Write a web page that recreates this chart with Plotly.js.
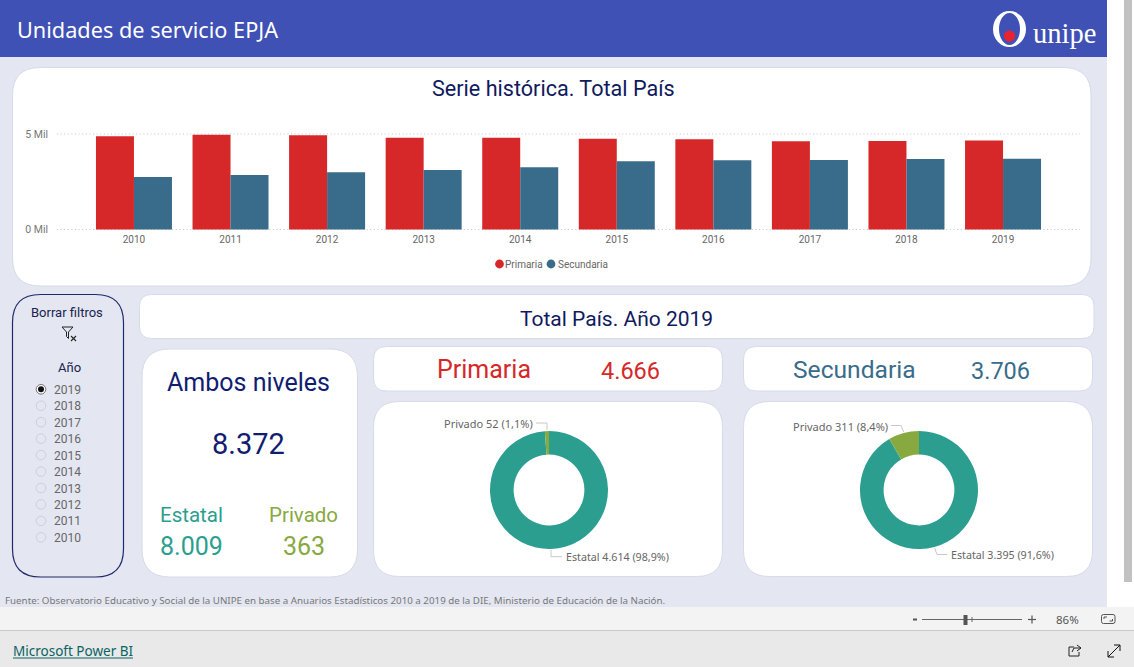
<!DOCTYPE html>
<html>
<head>
<meta charset="utf-8">
<script src="https://cdn.plot.ly/plotly-3.0.1.min.js"></script>
<style>html,body{margin:0;padding:0;background:#e4e7f1;overflow:hidden}#chart{width:1134px;height:667px}</style>
</head>
<body>
<div id="chart"></div>
<script>
const years = ['2010','2011','2012','2013','2014','2015','2016','2017','2018','2019'];
const primaria = [4880,4965,4930,4806,4806,4756,4720,4616,4634,4666];
const secundaria = [2749,2853,2994,3115,3255,3569,3622,3640,3690,3706];
const yTickValues = [0,5000];
const yTickLabels = ['0 Mil','5 Mil'];
const donutLabels = ['Estatal','Privado'];
const primariaDonut = [4614,52];
const secundariaDonut = [3395,311];
const primariaPct = ['98,9%','1,1%'];
const secundariaPct = ['91,6%','8,4%'];
const yearOptions = ['2019','2018','2017','2016','2015','2014','2013','2012','2011','2010'];

const W = 1134, H = 667;
const fx = x => x / W, fy = y => 1 - y / H;
const DIN = 'Roboto, sans-serif', UI = '"Noto Sans", sans-serif';
const NAVY = '#101a5e', RED = '#d62828', BLUE = '#386c8a', TEAL = '#2b9e8f', GREEN = '#87a93f', HEAD = '#3f51b5', BG = '#e4e7f1', EDGE = '#d6daeb';
const fmt = n => String(n).replace(/\B(?=(\d{3})+$)/g, '.');

function rr(x0, y0, x1, y1, r) {
  const X = fx, Y = fy;
  return `M${X(x0 + r)},${Y(y0)} L${X(x1 - r)},${Y(y0)} Q${X(x1)},${Y(y0)} ${X(x1)},${Y(y0 + r)} L${X(x1)},${Y(y1 - r)} Q${X(x1)},${Y(y1)} ${X(x1 - r)},${Y(y1)} L${X(x0 + r)},${Y(y1)} Q${X(x0)},${Y(y1)} ${X(x0)},${Y(y1 - r)} L${X(x0)},${Y(y0 + r)} Q${X(x0)},${Y(y0)} ${X(x0 + r)},${Y(y0)} Z`;
}
const shapes = [];
function rect(x0, y0, x1, y1, fill) {
  shapes.push({type:'rect',xref:'paper',yref:'paper',x0:fx(x0),x1:fx(x1),y0:fy(y0),y1:fy(y1),fillcolor:fill,line:{width:0},layer:'below'});
}
function card(x0, y0, x1, y1, r, fill, line, lw) {
  shapes.push({type:'path',xref:'paper',yref:'paper',path:rr(x0,y0,x1,y1,r),fillcolor:fill||'#fff',line:{color:line||EDGE,width:lw||1},layer:'below'});
}
function circ(cx, cy, rx, ry, fill, line, lw, layer) {
  shapes.push({type:'circle',xref:'paper',yref:'paper',x0:fx(cx-rx),x1:fx(cx+rx),y0:fy(cy-ry),y1:fy(cy+ry),fillcolor:fill,line:{color:line||fill,width:lw||0},layer:layer||'below'});
}
function poly(pts, color, lw, closed) {
  const d = pts.map((p,i)=>(i?'L':'M')+fx(p[0])+','+fy(p[1])).join(' ') + (closed?' Z':'');
  shapes.push({type:'path',xref:'paper',yref:'paper',path:d,line:{color:color,width:lw||1},fillcolor:'rgba(0,0,0,0)',layer:'above'});
}
const annotations = [];
function txt(text, x, y, size, color, anchor, family) {
  annotations.push({text,x:fx(x),y:fy(y),xref:'paper',yref:'paper',showarrow:false,xanchor:anchor||'center',yanchor:'middle',
    font:{size,color,family:family||DIN},borderpad:0,borderwidth:0});
}

// page chrome
rect(0,0,1107,57,HEAD);
rect(1107,0,1134,607,'#ffffff');
rect(1124,0,1132,582,'#c2c2c2');
rect(0,607,1134,630,'#f3f3f3');
rect(0,630,1134,631,'#c9c9c9');
rect(0,631,1134,667,'#e9e9e9');

// cards
card(12.5,67.5,1091,286,28);
card(12.5,294.5,123.5,577,28,BG,'#20296b',1.2);
card(139.5,294.5,1094,338.5,12);
card(142,349,357.5,577,28);
card(373.5,346.5,722.5,391,13);
card(373.5,401.5,722.5,576.5,26);
card(743.5,346.5,1092.5,391,13);
card(743.5,401.5,1092.5,576.5,26);

// dotted gridlines, placed by the y axis
yTickValues.forEach(v=>shapes.push({type:'line',xref:'paper',yref:'y',x0:fx(57),x1:fx(1080),y0:v,y1:v,
  line:{color:'#c4c4c4',width:1,dash:'1px,2.6px'},layer:'below'}));

// logo
circ(1009.5,29,16.5,18,'#ffffff');
circ(1009.5,29,10.5,16,HEAD);
circ(1009.5,36,5.6,5.6,'#e8232f');
txt('unipe',1033,33,28.5,'#ffffff','left','"Liberation Serif", serif');

// header and titles
txt('Unidades de servicio EPJA',17,30,21.7,'#ffffff','left',UI);
txt('Serie histórica. Total País',553,88,21.6,NAVY);
txt('Total País. Año 2019',616,319,21,NAVY);

// legend
circ(499.5,264,4.4,4.4,RED);
txt('Primaria',505,264.5,10,'#666','left');
circ(551,264,4.4,4.4,BLUE);
txt('Secundaria',557.5,264.5,10,'#666','left');

// slicer
txt('Borrar filtros',67,312,13,'#1a2350');
poly([[62,327],[73,327],[68.5,332],[68.5,338.5],[66.5,336.5],[66.5,332]],'#222',1,true);
poly([[71,336],[76,341]],'#222',1.1);
poly([[76,336],[71,341]],'#222',1.1);
txt('Año',69,367,13,'#1a2350');
yearOptions.forEach((yr,i)=>{
  const cy = 389.3 + i*16.45;
  circ(41,cy,4.8,4.8,'#ffffff00','#d0d0d4',1);
  if(i===0){circ(41,cy,4.8,4.8,'#ffffff','#77777f',1);circ(41,cy,3,3,'#111');}
  txt(yr,54,cy+0.5,12,'#666','left');
});

// KPIs
txt('Ambos niveles',248,382,25,'#111c72');
txt(fmt(primaria[9]+secundaria[9]),248,444,29,'#111c72');
txt('Estatal',191,515,20.5,TEAL);
txt(fmt(primariaDonut[0]+secundariaDonut[0]),191,546,25,TEAL);
txt('Privado',303.5,515,20.5,GREEN);
txt(fmt(primariaDonut[1]+secundariaDonut[1]),303.5,546,25,GREEN);
txt('Primaria',483.5,369,25,RED);
txt(fmt(primaria[9]),630,371,23.5,RED);
txt('Secundaria',854,369,24.6,BLUE);
txt(fmt(secundaria[9]),1000,371,23.5,BLUE);

// donut callouts
const LC = '#c8c8c8', LT = '#666';
poly([[536,423],[547,423],[547,430]],LC,1);
txt(`${donutLabels[1]} ${primariaDonut[1]} (${primariaPct[1]})`,533,423.7,11,LT,'right',UI);
poly([[551,550],[551,556.7],[562,556.7]],LC,1);
txt(`${donutLabels[0]} ${fmt(primariaDonut[0])} (${primariaPct[0]})`,566,557,10.7,LT,'left',UI);
poly([[891,425.5],[901,425.5],[903.7,432]],LC,1);
txt(`${donutLabels[1]} ${secundariaDonut[1]} (${secundariaPct[1]})`,888,426.7,11,LT,'right',UI);
poly([[934.7,548],[937,554.5],[947.3,554.5]],LC,1);
txt(`${donutLabels[0]} ${fmt(secundariaDonut[0])} (${secundariaPct[0]})`,950.7,555,10.7,LT,'left',UI);

// footer
txt('Fuente: Observatorio Educativo y Social de la UNIPE en base a Anuarios Estadísticos 2010 a 2019 de la DIE, Ministerio de Educación de la Nación.',4.5,600,9.78,'#777','left',UI);
txt('Microsoft Power BI',13,651,13.5,'#0b6363','left',UI);
poly([[13,658],[133,658]],'#0b6363',1);

// zoom bar
rect(913,618.5,917,620.5,'#555');
rect(922,619,1022,620,'#666');
rect(963.5,615,967.5,625,'#555');
rect(971.5,617,972.5,622,'#666');
poly([[1028,619.5],[1036,619.5]],'#555',1.2);
poly([[1032,615.5],[1032,623.5]],'#555',1.2);
txt('86%',1067,619,11.5,'#555','center',UI);
card(1101.5,614.5,1115,623.5,2,'#f3f3f3','#555',1);
poly([[1104,619],[1104,617],[1107,617]],'#555',1);
poly([[1112.5,619],[1112.5,621],[1109.5,621]],'#555',1);
// share and expand icons
poly([[1074,647],[1069,647],[1069,656],[1079,656],[1079,652]],'#222',1);
poly([[1072,652],[1074,648],[1081,648]],'#222',1);
poly([[1077,645],[1081,648],[1077,651]],'#222',1);
poly([[1108,657],[1120,645]],'#111',1);
poly([[1114,645],[1120,645],[1120,651]],'#111',1);
poly([[1108,651],[1108,657],[1114,657]],'#111',1);

const traces = [
  {type:'bar',name:'Primaria',x:years,y:primaria,marker:{color:RED},hoverinfo:'x+y',showlegend:false},
  {type:'bar',name:'Secundaria',x:years,y:secundaria,marker:{color:BLUE},hoverinfo:'x+y',showlegend:false},
  {type:'pie',labels:donutLabels,values:primariaDonut,hole:0.6,sort:false,direction:'clockwise',rotation:0,textinfo:'none',showlegend:false,
   marker:{colors:[TEAL,GREEN],line:{width:0}},domain:{x:[fx(490),fx(608)],y:[fy(549),fy(431)]}},
  {type:'pie',labels:donutLabels,values:secundariaDonut,hole:0.6,sort:false,direction:'clockwise',rotation:0,textinfo:'none',showlegend:false,
   marker:{colors:[TEAL,GREEN],line:{width:0}},domain:{x:[fx(860),fx(978)],y:[fy(549),fy(431)]}}
];
const layout = {
  width:W,height:H,margin:{l:0,r:0,t:0,b:0},autosize:false,
  paper_bgcolor:BG,plot_bgcolor:'rgba(0,0,0,0)',showlegend:false,
  barmode:'group',bargap:0.213,bargroupgap:0,
  xaxis:{type:'category',domain:[fx(57),fx(1080)],range:[-0.797,9.797],showgrid:false,zeroline:false,showline:false,ticks:'',
    ticklabelstandoff:2,tickfont:{size:10,color:'#666',family:DIN},fixedrange:true,anchor:'y'},
  yaxis:{domain:[fy(230.455),fy(133.045)],range:[-50,5050],tickvals:yTickValues,ticktext:yTickLabels,showgrid:false,
    zeroline:false,showline:false,ticks:'',ticklabelstandoff:8,tickfont:{size:10.5,color:'#777',family:DIN},fixedrange:true,anchor:'x'},
  shapes,annotations
};
Plotly.newPlot('chart',traces,layout,{displayModeBar:false,responsive:false});
</script>
</body>
</html>
